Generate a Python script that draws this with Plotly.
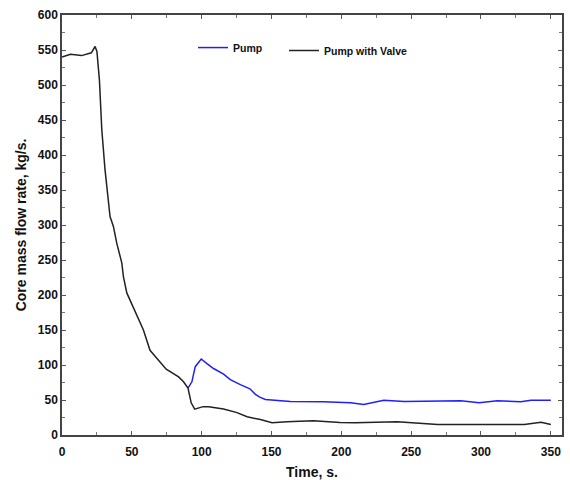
import plotly.graph_objects as go

valve_t = [0, 6, 14, 21, 23.7, 25, 26.8, 28.5, 30.8, 34.4, 36.8, 39.2, 42.8, 44, 46.4, 50, 54.8, 58.3, 63, 70.3, 74.6, 83.5, 87, 90.2, 92.5, 95, 101, 105, 115.7, 125.3, 132.5, 142, 150.4, 161, 180, 199, 210, 240, 254, 269, 331, 343, 350]
valve_q = [540, 544, 542, 546, 555, 548, 507, 436, 379, 312, 298, 274, 246, 226, 203, 187, 164, 150, 121, 103, 94, 83, 76, 67, 46, 37, 40.5, 40.5, 37, 32, 26, 22, 17.6, 19, 20.5, 18, 17.6, 18.8, 17.4, 15, 15, 18.3, 15]

pump_t = [90.2, 93, 95.4, 99.7, 103.8, 108.5, 115.7, 120.5, 127.7, 132.5, 134.5, 138.5, 141.6, 145.6, 163.5, 187, 206.6, 216, 230.4, 245, 271, 285.6, 298.7, 311.8, 328.5, 335.7, 350]
pump_q = [67, 76, 97.6, 108.6, 102, 95, 87, 79, 72, 68, 66, 58, 54, 50.7, 48, 47.4, 46, 43.6, 49.7, 48, 49, 49, 46, 49, 47.5, 49.7, 49.7]

x_ticks = [0, 50, 100, 150, 200, 250, 300, 350]
y_ticks = [0, 50, 100, 150, 200, 250, 300, 350, 400, 450, 500, 550, 600]

fig = go.Figure()
fig.add_trace(go.Scatter(x=pump_t, y=pump_q, mode="lines", name="Pump",
                         line=dict(color="#1f1fff", width=1.5), legend="legend"))
fig.add_trace(go.Scatter(x=valve_t, y=valve_q, mode="lines", name="Pump with Valve",
                         line=dict(color="#222222", width=1.5), legend="legend2"))

axis_common = dict(showline=True, linecolor="#444", linewidth=1.5, mirror="ticks",
                   ticks="inside", ticklen=4, tickcolor="#555", showgrid=False, zeroline=False,
                   automargin=False,
                   tickfont=dict(family="Liberation Sans", size=12, color="#111", weight="bold"))

fig.update_xaxes(range=[0, 358], tickvals=x_ticks, ticklabelstandoff=5,
                 minor=dict(dtick=25, ticks="inside", ticklen=3, tickcolor="#777"),
                 title=dict(text="Time, s.", font=dict(family="Liberation Sans", size=14, color="#111", weight="bold"), standoff=10),
                 **axis_common)
fig.update_yaxes(range=[0, 600], tickvals=y_ticks,
                 minor=dict(dtick=25, ticks="inside", ticklen=3, tickcolor="#777"),
                 title=dict(text="Core mass flow rate, kg/s.", font=dict(family="Liberation Sans", size=14, color="#111", weight="bold"), standoff=8),
                 **axis_common)

leg_font = dict(family="Liberation Sans", size=10.5, color="#111", weight="bold")
fig.update_layout(
    width=570, height=480,
    margin=dict(l=62, r=8, t=15, b=45),
    paper_bgcolor="white", plot_bgcolor="white",
    showlegend=True,
    legend=dict(x=0.262, y=0.957, xanchor="left", yanchor="top",
                bgcolor="rgba(0,0,0,0)", font=leg_font),
    legend2=dict(x=0.444, y=0.950, xanchor="left", yanchor="top",
                 bgcolor="rgba(0,0,0,0)", font=leg_font),
)

fig.write_html("out.html")
